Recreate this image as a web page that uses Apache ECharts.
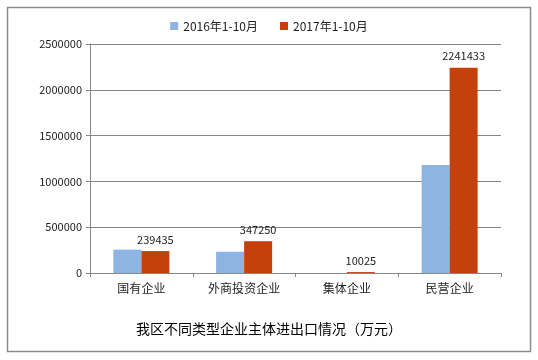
<!DOCTYPE html>
<html><head><meta charset="utf-8">
<script src="https://cdn.jsdelivr.net/npm/echarts@6/dist/echarts.min.js"></script>
<style>html,body{margin:0;padding:0;background:#fff}#c{width:538px;height:360px}</style>
</head><body><div id="c"></div>
<script>
const categories = ['国有企业', '外商投资企业', '集体企业', '民营企业'];
const seriesNames = ['2016年1-10月', '2017年1-10月'];
const values2016 = [255000, 232000, 0, 1180000];
const values2017 = [239435, 347250, 10025, 2241433];
const yTicks = [0, 500000, 1000000, 1500000, 2000000, 2500000];
const titleText = '我区不同类型企业主体进出口情况（万元）';

const font = '"Noto Sans CJK SC", "Microsoft YaHei", sans-serif';
const chart = echarts.init(document.getElementById('c'), null, {renderer: 'canvas'});
chart.setOption({
  animation: false,
  backgroundColor: '#fff',
  graphic: [{
    type: 'rect', shape: {x: 7.5, y: 7.5, width: 523, height: 344},
    style: {fill: 'none', stroke: '#8c8c8c', lineWidth: 1.5}, silent: true
  }],
  title: {
    text: titleText, left: 'center', top: 317,
    textStyle: {fontFamily: font, fontSize: 14, fontWeight: 'normal', color: '#000'}
  },
  legend: {
    top: 15, left: 'center', itemWidth: 8, itemHeight: 8, itemGap: 22,
    icon: 'rect',
    textStyle: {fontFamily: font, fontSize: 12, color: '#222'},
    data: seriesNames
  },
  grid: {left: 90, right: 37, top: 44, bottom: 87},
  xAxis: {
    type: 'category', data: categories,
    axisLine: {lineStyle: {color: '#868686'}},
    axisTick: {show: true, alignWithLabel: false, length: 4, lineStyle: {color: '#868686'}},
    axisLabel: {fontFamily: font, fontSize: 12, color: '#222', margin: 9}
  },
  yAxis: {
    type: 'value', min: yTicks[0], max: yTicks[yTicks.length - 1], interval: 500000,
    axisLine: {show: true, lineStyle: {color: '#868686'}},
    axisTick: {show: true, length: 4, lineStyle: {color: '#868686'}},
    splitLine: {lineStyle: {color: '#868686'}},
    axisLabel: {fontFamily: font, fontSize: 11, color: '#222', margin: 8,
      formatter: function (v) { return String(v); }}
  },
  series: [
    {
      name: seriesNames[0], type: 'bar', data: values2016,
      barWidth: 28, barGap: '0%',
      itemStyle: {color: '#8DB4E2'}
    },
    {
      name: seriesNames[1], type: 'bar', data: values2017,
      barWidth: 28,
      itemStyle: {color: '#C4400C'},
      label: {show: true, position: 'top', distance: 6, fontFamily: font, fontSize: 11, color: '#222'}
    }
  ]
});
</script></body></html>
